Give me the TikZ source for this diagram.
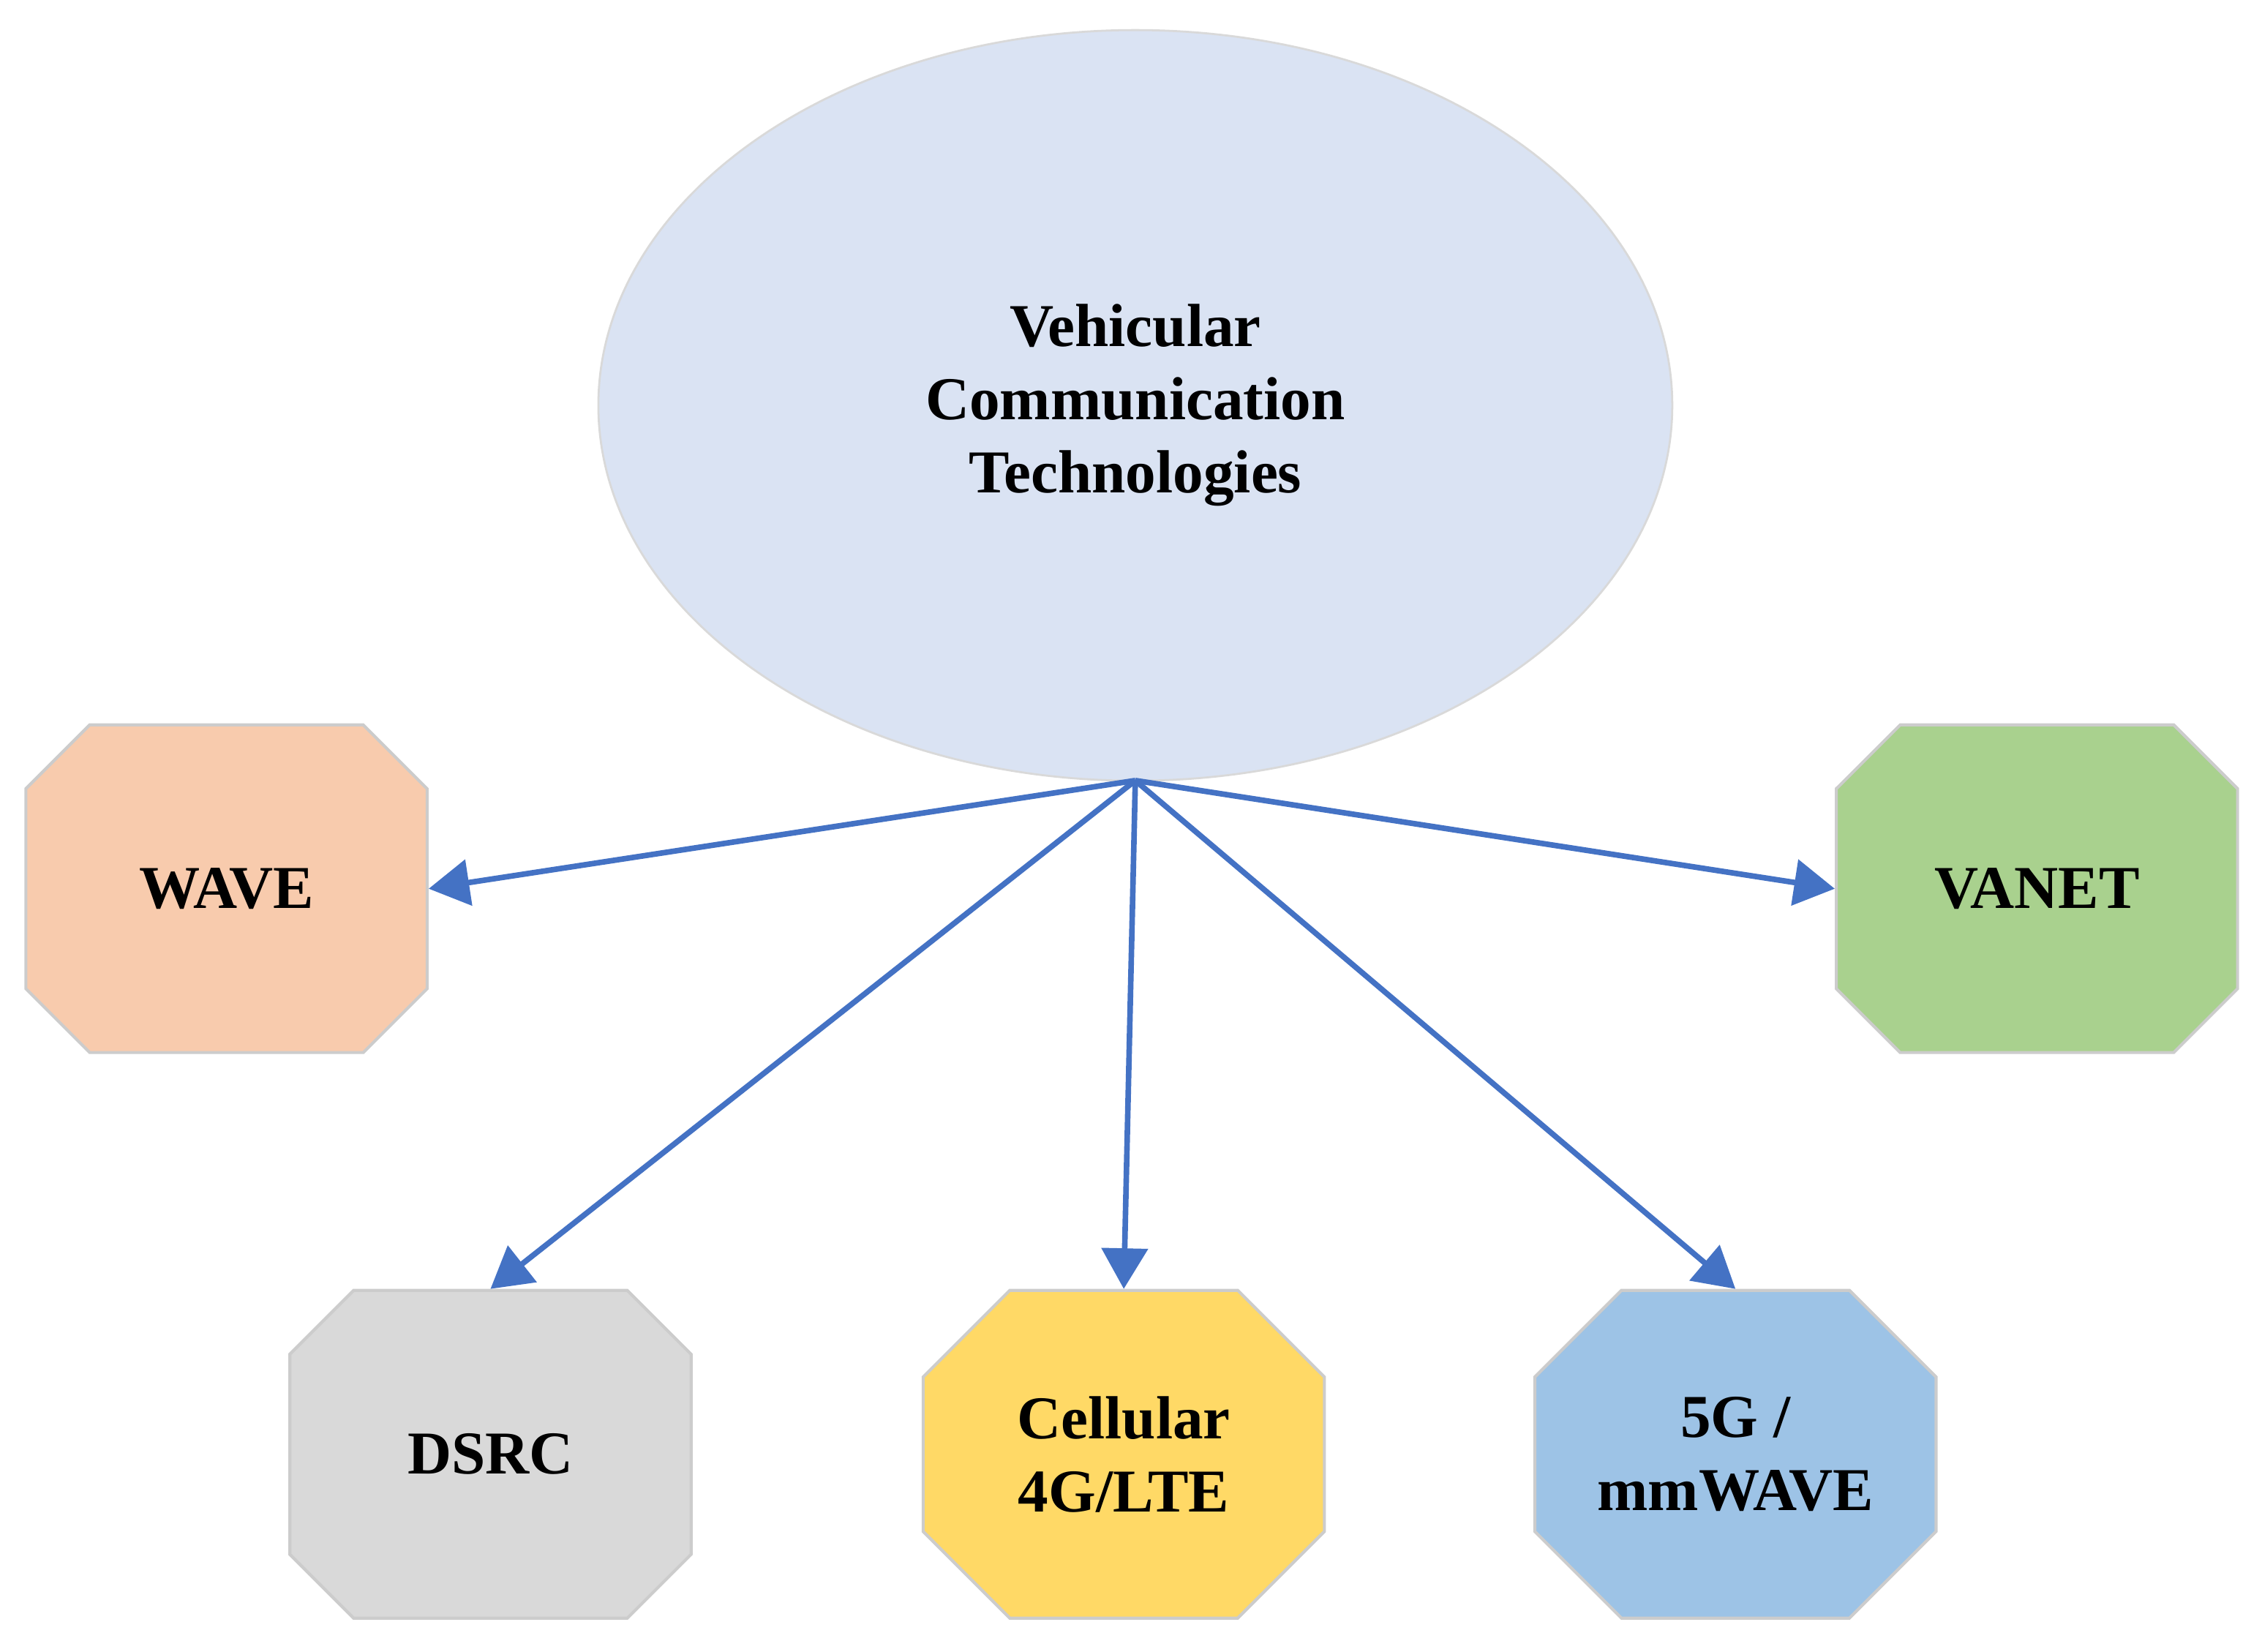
\documentclass[tikz,border=0pt]{standalone}
\usepackage{fontspec}
\setmainfont{Liberation Serif}
\usetikzlibrary{shapes.misc,shapes.geometric,arrows.meta}
\begin{document}
\begin{tikzpicture}[x=0.01cm,y=-0.01cm,
  box/.style={chamfered rectangle,chamfered rectangle xsep=0.3cm,chamfered rectangle ysep=0.3cm,
    minimum width=2.78cm,minimum height=2.27cm,draw=black!20,line width=0.6pt,
    font=\bfseries\fontsize{12}{14.4}\selectfont,align=center,inner sep=0pt},
  arr/.style={draw={rgb,255:red,68;green,114;blue,196},line width=1.1pt,
    -{Triangle[length=8pt,width=9pt]}}]
\useasboundingbox (0,0) rectangle (1568,1145);
\node[ellipse,draw=black!15,fill={rgb,255:red,218;green,227;blue,243},
  minimum width=7.44cm,minimum height=5.2cm,inner sep=0pt,
  font=\bfseries\fontsize{12}{14.4}\selectfont,align=center] (vct) at (787,281)
  {Vehicular\\Communication\\Technologies};
\coordinate (src) at (787,541);
\node[box,fill={rgb,255:red,248;green,203;blue,173}] (wave) at (157,616) {WAVE};
\node[box,fill={rgb,255:red,169;green,209;blue,142}] (vanet) at (1412,616) {VANET};
\node[box,fill={rgb,255:red,217;green,217;blue,217}] (dsrc) at (340,1008) {DSRC};
\node[box,fill={rgb,255:red,255;green,217;blue,102}] (cell) at (779,1008) {Cellular\\4G/LTE};
\node[box,fill={rgb,255:red,157;green,195;blue,230}] (fiveg) at (1203,1008) {5G /\\mmWAVE};
\draw[arr] (src) -- (wave.east);
\draw[arr] (src) -- (vanet.west);
\draw[arr] (src) -- (dsrc.north);
\draw[arr] (src) -- (cell.north);
\draw[arr] (src) -- (fiveg.north);
\end{tikzpicture}
\end{document}
